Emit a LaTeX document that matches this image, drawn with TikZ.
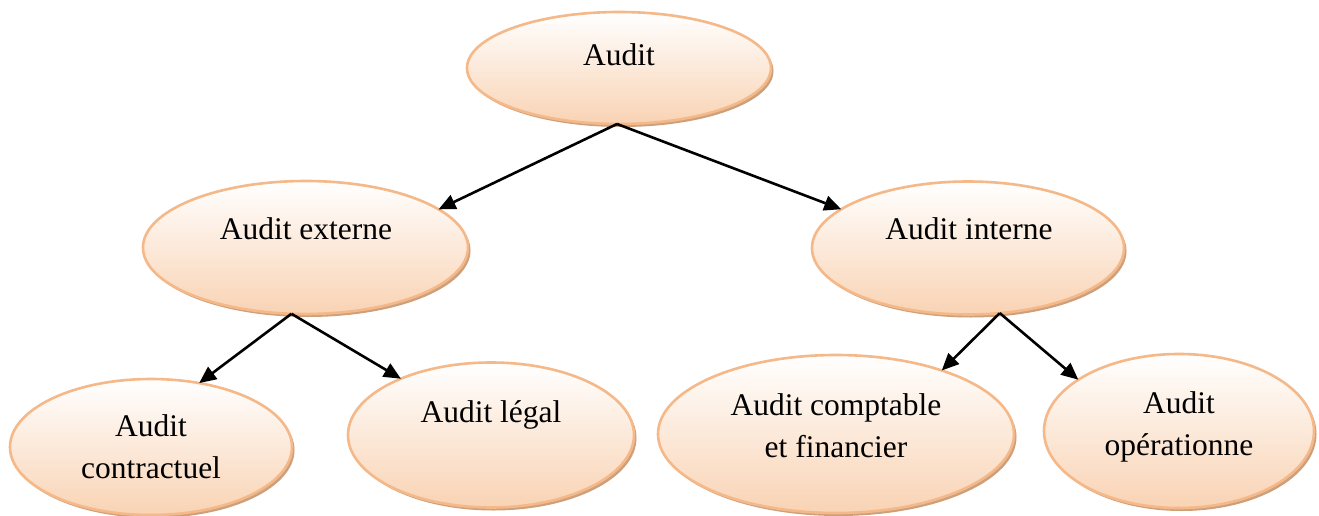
\documentclass[tikz,border=0pt]{standalone}
\usepackage{fontspec}
\setmainfont{Liberation Serif}
\usetikzlibrary{shapes.geometric,shadows,arrows.meta}
\definecolor{peachfill}{RGB}{249,211,180}
\definecolor{peachline}{RGB}{245,184,136}
\definecolor{peachshadow}{RGB}{205,160,124}
\tikzset{
  bubble/.style={ellipse, draw=peachline, line width=2.6pt, inner sep=0pt, outer sep=0pt,
    top color=white, bottom color=peachfill, middle color={peachfill!50!white},
    drop shadow={shadow xshift=2.5pt, shadow yshift=-3pt, fill=peachshadow, opacity=1}},
  lbl/.style={anchor=base, align=center, inner sep=0pt, font=\fontsize{31.5}{41.5}\selectfont},
  link/.style={line width=2.6pt, -{Triangle[length=17pt,width=15pt]}}
}
\begin{document}
\begin{tikzpicture}[x=1pt,y=-1pt]
\useasboundingbox[fill=white] (0,0) rectangle (1319,516);
\node[bubble, minimum width=304pt, minimum height=112pt] (audit) at (619,68) {};
\node[bubble, minimum width=325pt, minimum height=133pt] (ext) at (305.5,247.5) {};
\node[bubble, minimum width=312pt, minimum height=133pt] (int) at (968,248) {};
\node[bubble, minimum width=282pt, minimum height=136pt] (contr) at (151,447) {};
\node[bubble, minimum width=286pt, minimum height=145pt] (legal) at (491,435) {};
\node[bubble, minimum width=356pt, minimum height=158pt] (compt) at (836,434) {};
\node[bubble, minimum width=270pt, minimum height=154pt] (oper) at (1179,431) {};

\node[lbl] (audit-t) at (619,66) {Audit};
\node[lbl] (ext-t) at (306,239) {Audit externe};
\node[lbl] (int-t) at (969,239) {Audit interne};
\node[lbl] (contr-t) at (151,478) {Audit\\contractuel};
\node[lbl] (legal-t) at (491,422) {Audit légal};
\node[lbl] (compt-t) at (836,457) {Audit comptable\\et financier};
\node[lbl] (oper-t) at (1179,455) {Audit\\opérationne};

\draw[link] (audit.-92) -- (ext.16.8);
\draw[link] (audit.-92) -- (int.163);
\draw[link] (ext.-102) -- (contr.53.8);
\draw[link] (ext.-102) -- (legal.148.9);
\draw[link] (int.-64.8) -- (compt.31);
\draw[link] (int.-64.8) -- (oper.153.4);
\end{tikzpicture}
\end{document}
